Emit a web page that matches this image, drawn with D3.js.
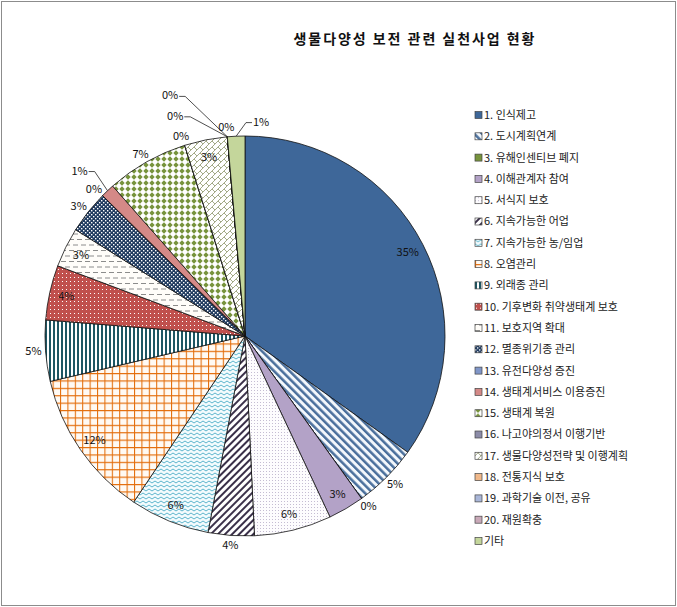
<!DOCTYPE html>
<html>
<head>
<meta charset="utf-8">
<script src="https://cdn.jsdelivr.net/npm/d3@7"></script>
<style>
 body { margin:0; background:#fff; }
 svg text { font-family: "Noto Sans CJK KR", "Noto Sans", sans-serif; }
</style>
</head>
<body>
<div id="chart"></div>
<script>
// chart data
const title = '생물다양성 보전 관련 실천사업 현황';
const categories = ['1. 인식제고','2. 도시계획연계','3. 유해인센티브 폐지','4. 이해관계자 참여','5. 서식지 보호',
  '6. 지속가능한 어업','7. 지속가능한 농/임업','8. 오염관리','9. 외래종 관리','10. 기후변화 취약생태계 보호',
  '11. 보호지역 확대','12. 멸종위기종 관리','13. 유전다양성 증진','14. 생태계서비스 이용증진','15. 생태계 복원',
  '16. 나고야의정서 이행기반','17. 생물다양성전략 및 이행계획','18. 전통지식 보호','19. 과학기술 이전, 공유','20. 재원확충','기타'];
const shares = [34.7, 5.2, 0, 2.9, 6.2, 3.7, 6.4, 11.9, 4.9, 4.4, 3.2, 3.45, 0, 1.1, 6.6, 0, 3.45, 0, 0, 0, 1.4];

// where excel put each percent label: inside, outside, or moved with a leader line [angle deg, radius]
const labelPlace = ['in','out','out','in','in','out','in','in','out','in','in','out','out',
  [315,234],'out','out','in',[342.4,231],[342.7,252],'out',[4.3,215]];

const width = 677, height = 607;
const cx = 245, cy = 336, R = 200;

const svg = d3.select('#chart').append('svg')
    .attr('width', width)
    .attr('height', height);

svg.append('rect')
    .attr('x',1.5).attr('y',1.5)
    .attr('width', width-3).attr('height', height-3)
    .attr('fill','#fff')
    .attr('stroke','#8c8c8c');

svg.append('text')
    .attr('x',414).attr('y',44)
    .attr('text-anchor','middle')
    .attr('textLength',241)
    .attr('lengthAdjust','spacing')
    .style('font-size','14px')
    .style('font-weight','bold')
    .attr('fill','#111')
    .text(title);

// ---- fill patterns (one per slice) ----
const defs = svg.append('defs');

function pat(id, w, h, bg, rot){
  const p = defs.append('pattern')
      .attr('id', id)
      .attr('patternUnits','userSpaceOnUse')
      .attr('width', w).attr('height', h);
  if(rot) p.attr('patternTransform', `rotate(${rot})`);
  p.append('rect').attr('width', w).attr('height', h).attr('fill', bg);
  return p;
}

// 2: blue stripes "\"
pat('p2',5.5,5.5,'#f4f8fc',-45).append('rect').attr('width',2.5).attr('height',5.5).attr('fill','#4a6f9c');
// 5: light stipple
pat('p5',3,3,'#fdfcfe').append('rect').attr('width',1).attr('height',1).attr('fill','#c4bcd2');
// 6: dark stripes "/"
pat('p6',5,5,'#ffffff',45).append('rect').attr('width',2).attr('height',5).attr('fill','#3a3049');
// 7: zigzag
pat('p7',6,4,'#f3fbfd').append('path').attr('d','M0,1 L3,3 L6,1').attr('fill','none').attr('stroke','#4bacc6').attr('stroke-width',0.9);
// 8: orange grid
{
 const p = pat('p8',7.4,7.4,'#fffaf4');
 p.append('path').attr('d','M0,0.5 H7.4 M0.5,0 V7.4').attr('stroke','#e36c09').attr('stroke-width',1.1);
}
// 9: dark teal vertical stripes
pat('p9',4,4,'#ffffff').append('rect').attr('width',2).attr('height',4).attr('fill','#1d5663');
// 10: red with white dots
pat('p10',4,4,'#c0504d').append('rect').attr('x',1).attr('y',1).attr('width',1).attr('height',1).attr('fill','#ffffff');
// 11: dashed horizontal lines
{
 const p = pat('p11',8,11,'#fffdf9');
 p.append('path').attr('d','M0,2.5 H5 M4,8 H8 M0,8 H1').attr('stroke','#7f7f7f').attr('stroke-width',0.9);
}
// 12: navy with white dots
{
 const p = pat('p12',4,4,'#1f3a5f');
 p.append('rect').attr('x',0).attr('y',0).attr('width',1.4).attr('height',1.4).attr('fill','#fff');
 p.append('rect').attr('x',2).attr('y',2).attr('width',1.4).attr('height',1.4).attr('fill','#fff');
}
// 15: olive diamonds
pat('p15',6,6,'#ffffff').append('path').attr('d','M3,0.3 L5.7,3 L3,5.7 L0.3,3 Z').attr('fill','#77933c');
// 17: diagonal brick
{
 const p = pat('p17',6,6,'#ffffff');
 p.append('path').attr('d','M-1,1 L1,-1 M0,6 L6,0 M5,7 L7,5 M3,3 L6,6')
   .attr('stroke','#8b9468').attr('stroke-width',0.8).attr('fill','none');
}

const fills = ['#3e6799','url(#p2)','#77933c','#b3a2c7','url(#p5)','url(#p6)','url(#p7)','url(#p8)','url(#p9)','url(#p10)',
  'url(#p11)','url(#p12)','#8096c8','#d48987','url(#p15)','#8c8ca8','url(#p17)','#f0b88a','#a9b6d8','#c9a9b8','#c4d69b'];

// ---- pie ----
const total = d3.sum(shares);
const pie = d3.pie().sort(null).value(d => d);
const arcs = pie(shares);
const arc = d3.arc().innerRadius(0).outerRadius(R);

const g = svg.append('g').attr('transform', `translate(${cx},${cy})`);

g.selectAll('path.slice')
  .data(arcs)
  .join('path')
    .attr('class','slice')
    .attr('d', arc)
    .attr('fill', (d,i) => fills[i])
    .attr('stroke','#111')
    .attr('stroke-width',0.8)
    .attr('stroke-linejoin','round');

// ---- percent labels ----
const pol = (a, r) => [Math.sin(a)*r, -Math.cos(a)*r];
const labels = g.append('g').style('font-size','11px').attr('fill','#111');

arcs.forEach((d,i) => {
  const txt = Math.round(d.value/total*100) + '%';
  const mid = (d.startAngle + d.endAngle)/2;
  const place = labelPlace[i];
  const t = labels.append('text')
      .attr('text-anchor','middle')
      .attr('dy','0.36em')
      .text(txt);
  const w = t.node().getComputedTextLength(), h = 11;
  let x, y;
  if(place === 'in'){
    [x, y] = pol(mid, R*0.915);
  } else if(place === 'out'){
    [x, y] = pol(mid, R+4);
    x += Math.sin(mid)*w/2;
    y += -Math.cos(mid)*h/2;
  } else {
    [x, y] = pol(place[0]*Math.PI/180, place[1]);
    const [tx, ty] = pol(mid, R);
    const sx = tx > x ? x + w/2 + 1 : x - w/2 - 1;
    const dir = tx > x ? 1 : -1;
    labels.append('path')
        .attr('d', `M${sx},${y+1} H${sx+dir*6} L${tx},${ty}`)
        .attr('fill','none')
        .attr('stroke','#222')
        .attr('stroke-width',0.8);
  }
  t.attr('x', x).attr('y', y);
});

// ---- legend ----
const legend = svg.append('g')
    .attr('transform','translate(475,115)')
    .style('font-size','11px');

const lg = legend.selectAll('g')
  .data(categories)
  .join('g')
    .attr('transform', (d,i) => `translate(0,${i*21.3})`);

lg.append('rect')
    .attr('x',0).attr('y',-3.5)
    .attr('width',7).attr('height',7)
    .attr('fill', (d,i) => fills[i])
    .attr('stroke','#444')
    .attr('stroke-width',0.7);

lg.append('text')
    .attr('x',9)
    .attr('dy','0.36em')
    .attr('fill','#222')
    .text(d => d);
</script>
</body>
</html>
